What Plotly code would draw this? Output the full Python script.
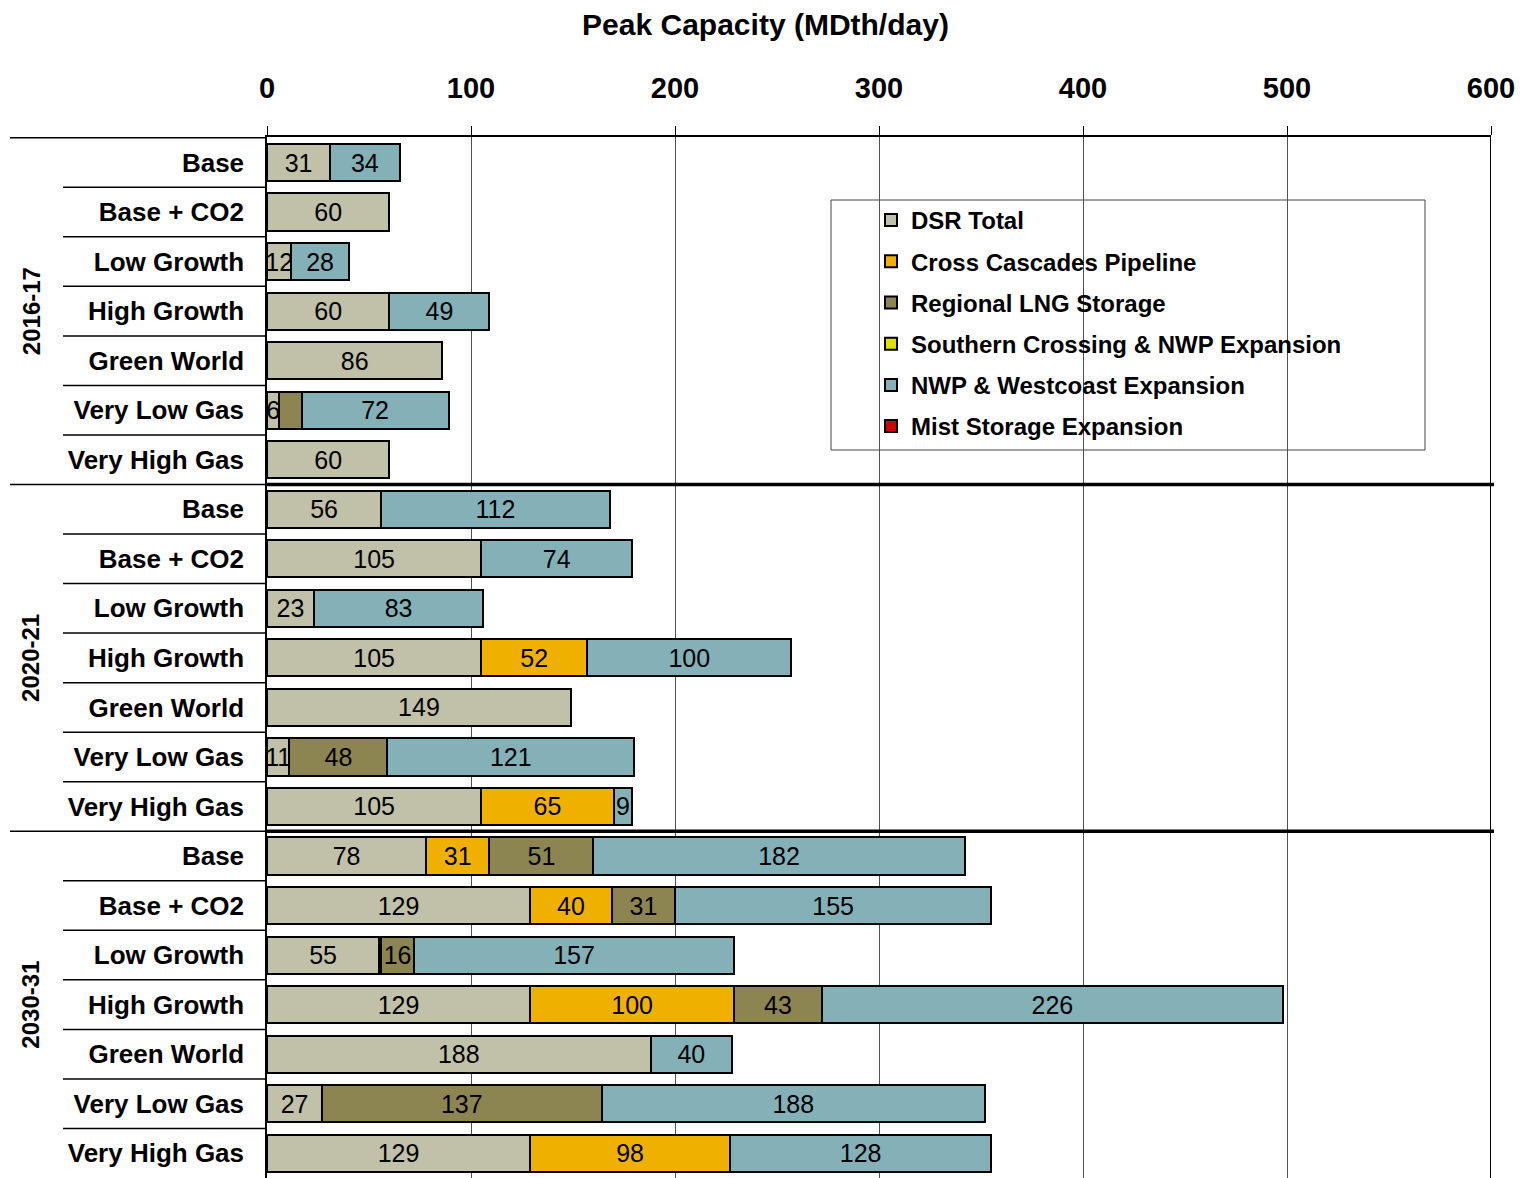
import plotly.graph_objects as go

# Scenario rows, grouped by planning year
years = ["2016-17", "2020-21", "2030-31"]
scenarios = ["Base", "Base + CO2", "Low Growth", "High Growth",
             "Green World", "Very Low Gas", "Very High Gas"]

# Peak capacity by resource (MDth/day), one value per row (year x scenario)
dsr_total = [31, 60, 12, 60, 86, 6, 60,
             56, 105, 23, 105, 149, 11, 105,
             78, 129, 55, 129, 188, 27, 129]
cross_cascades = [0, 0, 0, 0, 0, 0, 0,
                  0, 0, 0, 52, 0, 0, 65,
                  31, 40, 1, 100, 0, 0, 98]
regional_lng = [0, 0, 0, 0, 0, 11, 0,
                0, 0, 0, 0, 0, 48, 0,
                51, 31, 16, 43, 0, 137, 0]
southern_crossing = [0] * 21
nwp_westcoast = [34, 0, 28, 49, 0, 72, 0,
                 112, 74, 83, 100, 0, 121, 9,
                 182, 155, 157, 226, 40, 188, 128]
mist_storage = [0] * 21

series_names = ["DSR Total", "Cross Cascades Pipeline", "Regional LNG Storage",
                "Southern Crossing & NWP Expansion", "NWP & Westcoast Expansion",
                "Mist Storage Expansion"]
series_values = [dsr_total, cross_cascades, regional_lng,
                 southern_crossing, nwp_westcoast, mist_storage]
series_colors = ["#C1C0A9", "#F0B000", "#8C8552", "#E0E000", "#84B0B7", "#D00000"]

# segments too thin to carry a readable value label: (series index, row index)
unlabeled = {(2, 5), (1, 16)}

xticks = [0, 100, 200, 300, 400, 500, 600]

FONT = "Arial, Liberation Sans, sans-serif"

row_keys = [f"{y} | {s}" for y in years for s in scenarios]
row_text = [s for y in years for s in scenarios]
n_rows = len(row_keys)

fig = go.Figure()
for si, (name, vals, col) in enumerate(zip(series_names, series_values, series_colors)):
    labels = ["" if (v == 0 or (si, ri) in unlabeled) else str(v)
              for ri, v in enumerate(vals)]
    fig.add_trace(go.Bar(
        name=name, orientation="h", y=row_keys, x=vals,
        marker=dict(color=col, line=dict(color="black", width=2)),
        text=labels, textposition="inside", insidetextanchor="middle",
        textangle=0, constraintext="none",
        textfont=dict(family=FONT, size=25, color="black"),
        legendgroup=name,
    ))

# plot-area geometry in pixels, used to place decorations outside the axes
L, R, T, B, W, H = 267, 40, 137, 0, 1531, 1178
pw = W - L - R


def px_to_paper_x(px):
    return (px - L) / pw


def px_to_paper_y(py):
    return (H - B - py) / (H - T - B)


shapes = []
# row separators in the label column, plus heavy rules between year groups
for i in range(n_rows):
    yb = i - 0.5
    group_edge = (i % len(scenarios) == 0)
    x_start = px_to_paper_x(10) if group_edge else px_to_paper_x(63)
    shapes.append(dict(type="line", xref="paper", yref="y", x0=x_start, x1=0,
                       y0=yb, y1=yb, line=dict(color="black", width=1.5)))
    if group_edge and i > 0:
        shapes.append(dict(type="line", xref="paper", yref="y", x0=0,
                           x1=px_to_paper_x(1494), y0=yb, y1=yb,
                           line=dict(color="black", width=3.5)))
# right frame edge
shapes.append(dict(type="line", xref="x", yref="paper", x0=600, x1=600,
                   y0=0, y1=1, line=dict(color="black", width=2)))
# legend frame
shapes.append(dict(type="rect", xref="paper", yref="paper",
                   x0=px_to_paper_x(831), x1=px_to_paper_x(1425),
                   y0=px_to_paper_y(450), y1=px_to_paper_y(200),
                   line=dict(color="#444", width=1), fillcolor="white",
                   layer="below"))

annotations = []
for gi, y in enumerate(years):
    mid = row_keys[gi * len(scenarios) + len(scenarios) // 2]
    annotations.append(dict(text=y, x=px_to_paper_x(31), xref="paper", y=mid,
                            yref="y", showarrow=False, textangle=-90,
                            font=dict(family=FONT, size=24, color="black",
                                      weight="bold"),
                            xanchor="center", yanchor="middle"))

fig.update_layout(
    width=W, height=H,
    margin=dict(l=L, r=R, t=T, b=B, pad=0),
    barmode="stack", bargap=0.25,
    plot_bgcolor="rgba(0,0,0,0)", paper_bgcolor="white",
    title=dict(text="<b>Peak Capacity (MDth/day)</b>", x=0.5, xanchor="center",
               xref="container", y=1 - 24 / H, yanchor="middle", yref="container",
               font=dict(family=FONT, size=30, color="black")),
    xaxis=dict(side="top", range=[0, 600], tickvals=xticks,
               ticktext=[str(v) for v in xticks],
               showgrid=True, gridcolor="#505050", gridwidth=1,
               showline=True, linecolor="black", linewidth=2,
               ticks="outside", ticklen=9, tickcolor="black", tickwidth=1,
               ticklabelstandoff=16,
               tickfont=dict(family=FONT, size=29, color="black", weight="bold"),
               zeroline=False, fixedrange=True),
    yaxis=dict(categoryorder="array", categoryarray=row_keys,
               autorange="reversed", tickvals=row_keys, ticktext=row_text,
               ticks="", ticklabelstandoff=16,
               tickfont=dict(family=FONT, size=26, color="black", weight="bold"),
               showline=True, linecolor="black", linewidth=1.5,
               showgrid=False, fixedrange=True),
    legend=dict(x=px_to_paper_x(871), xanchor="left",
                y=px_to_paper_y(198), yanchor="top",
                bgcolor="rgba(0,0,0,0)", borderwidth=0,
                traceorder="grouped", tracegroupgap=7,
                font=dict(family=FONT, size=24, color="black", weight="bold")),
    uniformtext=dict(mode="show", minsize=25),
    shapes=shapes, annotations=annotations,
    showlegend=True,
)

fig.write_html("out.html")
